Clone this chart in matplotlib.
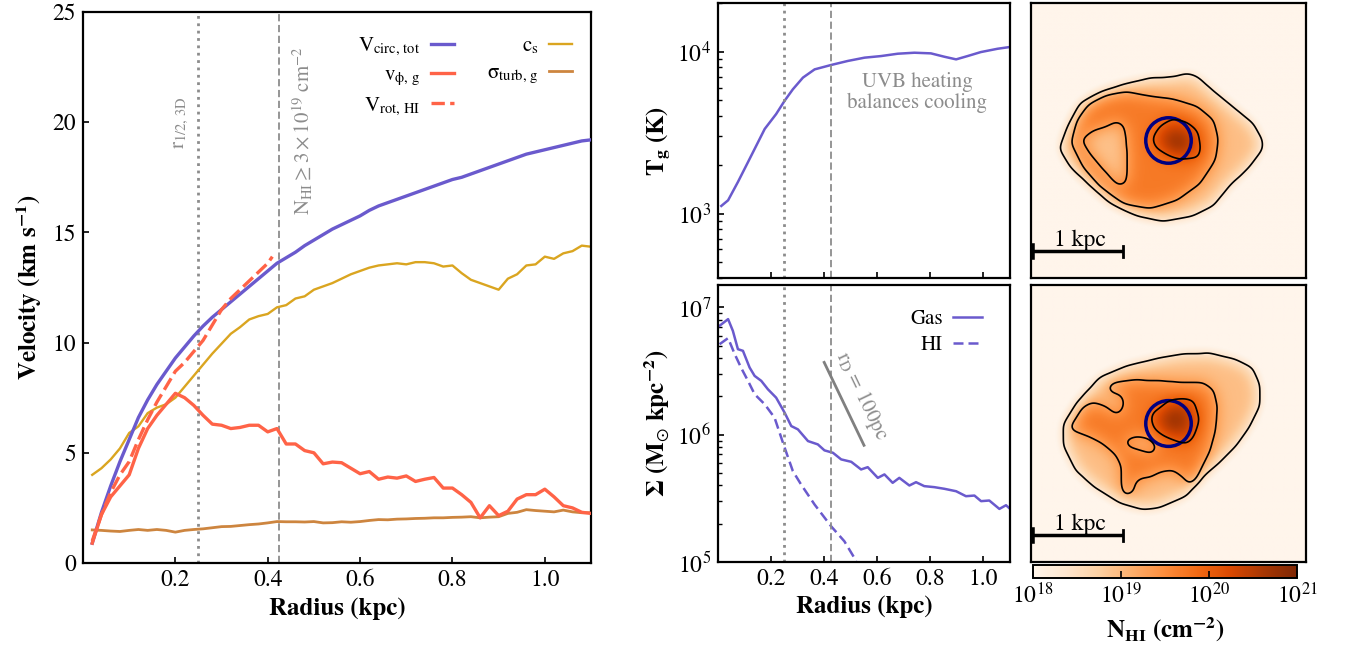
import numpy as np
import matplotlib
matplotlib.use("Agg")
import matplotlib.pyplot as plt
from matplotlib.colors import LogNorm
from matplotlib.path import Path
from matplotlib.patches import Circle

plt.rcParams['font.family'] = 'STIXGeneral'
plt.rcParams['mathtext.fontset'] = 'stix'
plt.rcParams['xtick.direction'] = 'in'
plt.rcParams['ytick.direction'] = 'in'
plt.rcParams['axes.linewidth'] = 1.6
plt.rcParams['xtick.major.width'] = 1.2
plt.rcParams['ytick.major.width'] = 1.2
plt.rcParams['xtick.minor.width'] = 1.0
plt.rcParams['ytick.minor.width'] = 1.0
plt.rcParams['xtick.major.size'] = 4.5
plt.rcParams['ytick.major.size'] = 4.5
plt.rcParams['xtick.minor.size'] = 2.8
plt.rcParams['ytick.minor.size'] = 2.8
plt.rcParams['xtick.labelsize'] = 17
plt.rcParams['ytick.labelsize'] = 17

#radial profiles (kpc, km/s)
r_prof = np.round(np.linspace(0.02, 1.10, 55), 2)

v_circ = [0.9, 2.3, 3.5, 4.6, 5.6, 6.6, 7.4, 8.1, 8.7, 9.3,
          9.8, 10.3, 10.75, 11.15, 11.5, 11.85, 12.2, 12.55, 12.9, 13.25,
          13.6, 13.85, 14.1, 14.4, 14.65, 14.9, 15.15, 15.35, 15.55, 15.75,
          16.0, 16.2, 16.35, 16.5, 16.65, 16.8, 16.95, 17.1, 17.25, 17.4,
          17.5, 17.65, 17.8, 17.95, 18.1, 18.25, 18.4, 18.55, 18.65, 18.75,
          18.85, 18.95, 19.05, 19.15, 19.2]

v_phi = [0.9, 2.2, 3.0, 3.5, 4.0, 5.2, 6.1, 6.7, 7.2, 7.7,
         7.5, 7.15, 6.7, 6.3, 6.25, 6.1, 6.15, 6.25, 6.25, 5.95,
         6.1, 5.4, 5.4, 5.1, 5.0, 4.5, 4.58, 4.55, 4.3, 4.05,
         4.15, 3.8, 3.9, 3.85, 3.95, 3.7, 3.8, 3.88, 3.4, 3.4,
         3.1, 2.75, 2.05, 2.6, 2.15, 2.35, 2.9, 3.1, 3.1, 3.35,
         3.0, 2.6, 2.5, 2.3, 2.25]

c_s = [4.0, 4.3, 4.7, 5.2, 5.9, 6.2, 6.8, 7.05, 7.2, 7.5,
       8.0, 8.5, 9.0, 9.5, 9.95, 10.4, 10.7, 11.05, 11.2, 11.3,
       11.6, 11.7, 12.0, 12.1, 12.4, 12.55, 12.7, 12.9, 13.1, 13.25,
       13.4, 13.5, 13.55, 13.6, 13.55, 13.65, 13.65, 13.6, 13.45, 13.5,
       13.15, 12.85, 12.7, 12.55, 12.4, 12.9, 13.1, 13.5, 13.55, 13.9,
       13.8, 14.05, 14.15, 14.4, 14.35]

sigma_turb = [1.5, 1.48, 1.45, 1.43, 1.48, 1.52, 1.48, 1.52, 1.48, 1.4,
              1.48, 1.52, 1.55, 1.6, 1.65, 1.66, 1.7, 1.74, 1.77, 1.82,
              1.88, 1.87, 1.87, 1.86, 1.88, 1.82, 1.83, 1.87, 1.85, 1.88,
              1.93, 1.97, 1.96, 1.99, 2.0, 2.02, 2.03, 2.05, 2.05, 2.07,
              2.08, 2.1, 2.05, 2.08, 2.1, 2.25, 2.3, 2.42, 2.38, 2.35,
              2.32, 2.4, 2.32, 2.28, 2.28]

r_hi = [0.02, 0.04, 0.06, 0.08, 0.10, 0.12, 0.14, 0.16, 0.18, 0.20, 0.22,
        0.24, 0.26, 0.28, 0.30, 0.32, 0.34, 0.36, 0.38, 0.40, 0.41]
v_rot_hi = [1.0, 2.2, 3.2, 4.0, 4.6, 5.6, 6.5, 7.3, 8.0, 8.7, 9.1,
            9.6, 10.1, 10.8, 11.5, 12.0, 12.4, 12.8, 13.2, 13.6, 13.9]

#gas temperature profile
r_temp = [0.0125, 0.038, 0.075, 0.113, 0.176, 0.219, 0.251, 0.282, 0.32, 0.364,
          0.426, 0.489, 0.552, 0.614, 0.677, 0.74, 0.802, 0.853, 0.897, 0.94,
          0.99, 1.053, 1.097]
t_gas = [1115, 1208, 1567, 2080, 3334, 4120, 4980, 5860, 6920, 7780,
         8280, 8770, 9190, 9400, 9720, 9860, 9770, 9310, 8970, 9400,
         9950, 10430, 10680]

#surface densities (Msun/kpc^2)
r_sd = [0.006, 0.038, 0.056, 0.075, 0.094, 0.119, 0.138, 0.163, 0.188, 0.219,
        0.251, 0.276, 0.301, 0.339, 0.376, 0.401, 0.433, 0.464, 0.502, 0.539,
        0.564, 0.602, 0.627, 0.658, 0.683, 0.721, 0.746, 0.777, 0.815, 0.853,
        0.897, 0.934, 0.966, 0.991, 1.022, 1.06, 1.085, 1.103]
log_sd_gas = [6.856, 6.908, 6.816, 6.672, 6.659, 6.528, 6.462, 6.423, 6.357, 6.291,
              6.173, 6.068, 6.042, 5.95, 5.924, 5.877, 5.858, 5.806, 5.787, 5.727,
              5.745, 5.661, 5.688, 5.622, 5.661, 5.601, 5.627, 5.596, 5.588, 5.575,
              5.556, 5.517, 5.522, 5.478, 5.483, 5.417, 5.446, 5.412]
r_sd_hi = [0.006, 0.038, 0.063, 0.088, 0.113, 0.138, 0.176, 0.213, 0.251, 0.282,
           0.313, 0.364, 0.426, 0.476, 0.514, 0.523]
log_sd_hi = [6.711, 6.759, 6.633, 6.522, 6.423, 6.318, 6.239, 6.134, 5.898, 5.714,
             5.609, 5.451, 5.281, 5.163, 5.031, 4.99]

r_half = 0.248      # 3D half-mass radius (kpc)
r_nhi = 0.424       # radius where N_HI >= 3e19 cm^-2
r_disk = 0.1        # exponential scale length of the guide line (kpc)

#HI map outlines in kpc: outer envelope, dense region, holes and core
map1_outer = [(-1.20, -0.09), (-1.11, 0.15), (-0.97, 0.41), (-0.75, 0.53), (-0.49, 0.62),
              (-0.20, 0.69), (0.05, 0.70), (0.20, 0.74), (0.31, 0.71), (0.49, 0.55),
              (0.71, 0.37), (0.93, 0.19), (1.03, 0.01), (1.03, -0.10), (0.89, -0.29),
              (0.67, -0.50), (0.49, -0.72), (0.27, -0.83), (-0.06, -0.89), (-0.35, -0.83),
              (-0.64, -0.69), (-0.89, -0.47), (-1.08, -0.29)]
map1_mid = [(-1.06, -0.03), (-1.00, 0.22), (-0.86, 0.41), (-0.68, 0.50), (-0.46, 0.53),
            (-0.20, 0.48), (0.05, 0.45), (0.31, 0.37), (0.49, 0.22), (0.54, 0.01),
            (0.51, -0.21), (0.34, -0.47), (0.09, -0.65), (-0.20, -0.74), (-0.49, -0.69),
            (-0.75, -0.50), (-0.93, -0.29)]
map1_holes = [[(-0.95, 0.01), (-0.82, 0.11), (-0.68, 0.15), (-0.57, 0.21), (-0.49, 0.17),
               (-0.46, 0.01), (-0.45, -0.25), (-0.46, -0.47), (-0.55, -0.49), (-0.71, -0.32),
               (-0.86, -0.14)]]
map1_core = [(-0.17, 0.02), (-0.09, 0.15), (0.05, 0.23), (0.20, 0.19), (0.31, 0.10),
             (0.34, -0.07), (0.33, -0.18), (0.23, -0.18), (0.13, -0.18), (-0.02, -0.12),
             (-0.13, -0.07)]
map1_peak = (0.09, -0.03)

map2_outer = [(-1.15, 0.00), (-1.00, 0.24), (-0.75, 0.51), (-0.46, 0.63), (-0.09, 0.72),
              (0.16, 0.76), (0.45, 0.77), (0.74, 0.70), (0.92, 0.61), (1.00, 0.43),
              (1.00, 0.18), (0.89, -0.04), (0.74, -0.25), (0.56, -0.43), (0.38, -0.58),
              (0.20, -0.79), (-0.10, -0.92), (-0.28, -0.94), (-0.53, -0.87), (-0.82, -0.69),
              (-1.02, -0.51), (-1.15, -0.25)]
map2_mid = [(-1.08, -0.05), (-0.93, 0.18), (-0.82, 0.23), (-0.68, 0.18), (-0.57, 0.09),
            (-0.51, 0.13), (-0.48, 0.22), (-0.51, 0.31), (-0.62, 0.34), (-0.67, 0.38),
            (-0.60, 0.44), (-0.38, 0.47), (-0.09, 0.46), (0.16, 0.44), (0.38, 0.44),
            (0.49, 0.36), (0.53, 0.18), (0.51, -0.07), (0.45, -0.29), (0.36, -0.47),
            (0.31, -0.61), (0.23, -0.66), (0.16, -0.58), (0.05, -0.50), (-0.09, -0.52),
            (-0.20, -0.58), (-0.31, -0.59), (-0.37, -0.65), (-0.38, -0.74), (-0.48, -0.78),
            (-0.51, -0.68), (-0.51, -0.47), (-0.57, -0.34), (-0.71, -0.22), (-0.86, -0.14),
            (-1.00, -0.09)]
map2_holes = [[(-0.48, -0.18), (-0.35, -0.14), (-0.22, -0.16), (-0.13, -0.25), (-0.17, -0.33),
               (-0.31, -0.29), (-0.44, -0.25)]]
map2_core = [(-0.17, 0.11), (-0.09, 0.15), (0.02, 0.24), (0.16, 0.26), (0.27, 0.25),
             (0.33, 0.04), (0.27, -0.14), (0.20, -0.22), (0.09, -0.18), (-0.06, -0.11),
             (-0.15, -0.05), (-0.18, 0.04)]
map2_peak = (0.07, 0.04)

#log N_HI assigned inside each outline
lg_bg, lg_env, lg_disk, lg_hole, lg_core = 17.8, 18.95, 19.7, 18.9, 20.3
contour_levels = [18.45, 19.3, 20.0]

W, H = 1346, 662


def px_box(x0, y0, x1, y1):
    return [x0 / W, 1 - y1 / H, (x1 - x0) / W, (y1 - y0) / H]


def blur(img, sig):
    k = np.arange(-4 * sig, 4 * sig + 1)
    k = np.exp(-0.5 * (k / sig) ** 2)
    k /= k.sum()
    img = np.apply_along_axis(lambda m: np.convolve(m, k, mode='same'), 0, img)
    img = np.apply_along_axis(lambda m: np.convolve(m, k, mode='same'), 1, img)
    return img


ngrid = 300
gx = np.linspace(-1.5, 1.5, ngrid)
GX, GY = np.meshgrid(gx, gx)
pts = np.column_stack([GX.ravel(), GY.ravel()])


def inside(poly):
    return Path(poly).contains_points(pts).reshape(GX.shape)


def draw_map(ax, outer, mid, holes, core, peak):
    f = np.zeros_like(GX)
    f[inside(outer)] = lg_env - lg_bg
    f[inside(mid)] = lg_disk - lg_bg
    for h in holes:
        f[inside(h)] = lg_hole - lg_bg
    f[inside(core)] = lg_core - lg_bg
    bump = 0.35 * np.exp(-((GX - peak[0]) ** 2 + (GY - peak[1]) ** 2) / (2 * 0.13 ** 2))
    # soft version for the colours, sharper one for the contour lines
    lg_soft = lg_bg + blur(f, 9) + bump
    lg_sharp = lg_bg + blur(f, 4) + bump
    im = ax.imshow(10 ** lg_soft, cmap='Oranges', norm=LogNorm(1e18, 1e21), origin='lower',
                   extent=(-1.5, 1.5, -1.5, 1.5), interpolation='bilinear', aspect='auto')
    ax.contour(GX, GY, lg_sharp, levels=contour_levels, colors='k', linewidths=1.2)
    ax.add_patch(Circle((0, 0), r_half, fill=False, color='navy', lw=2.5))
    # 1 kpc scale bar
    ax.plot([-1.5, -0.5], [-1.21, -1.21], color='k', lw=2.5, solid_capstyle='butt')
    ax.plot([-1.49, -1.49], [-1.27, -1.15], color='k', lw=4)
    ax.plot([-0.5, -0.5], [-1.27, -1.15], color='k', lw=2)
    ax.text(-0.97, -1.15, '1 kpc', ha='center', va='baseline', fontsize=17)
    ax.set_xlim(-1.5, 1.5)
    ax.set_ylim(-1.5, 1.5)
    ax.set_xticks([])
    ax.set_yticks([])
    return im


fig = plt.figure(figsize=(13.46, 6.62), dpi=100)

grey = '#8c8c8c'
radius_ticks = [0.2, 0.4, 0.6, 0.8, 1.0]

# velocities
ax = fig.add_axes(px_box(83, 12, 591, 563))
ax.plot(r_prof, v_circ, color='#6a5acd', lw=2.4, label=r'V$_{\rm circ,\,tot}$', zorder=3)
ax.plot(r_prof, v_phi, color='#ff6347', lw=2.4, label=r'v$_{\mathrm{\phi},\,\rm g}$', zorder=3)
ax.plot(r_hi, v_rot_hi, color='#ff6347', lw=2.4, ls=(0, (4, 1.6)), label=r'V$_{\rm rot,\,HI}$', zorder=3)
ax.plot(r_prof, c_s, color='#daa520', lw=1.7, label=r'c$_{\rm s}$', zorder=2)
ax.plot(r_prof, sigma_turb, color='#cd853f', lw=2.0, label=r'$\mathrm{\sigma}_{\rm turb,\,g}$', zorder=2)
ax.axvline(r_half, color=grey, ls=':', lw=2.0, zorder=1)
ax.axvline(r_nhi, color=grey, ls=(0, (4, 2)), lw=1.3, zorder=1)
ax.text(0.212, 18.8, r'r$_{1/2,\,\rm 3D}$', rotation=90, ha='center', va='bottom', fontsize=15, color=grey)
ax.text(0.477, 15.8, r'N$_{\rm HI}\geq 3\times10^{19}$ cm$^{-2}$', rotation=90, ha='center', va='bottom',
        fontsize=15, color=grey)
ax.set_xlim(0, 1.1)
ax.set_ylim(0, 25)
ax.set_xticks(radius_ticks)
ax.set_xticklabels(['0.2', '0.4', '0.6', '0.8', '1.0'])
ax.set_yticks([0, 5, 10, 15, 20, 25])
ax.tick_params(pad=5)
ax.set_xlabel('Radius (kpc)', fontsize=18, fontweight='bold', labelpad=4)
ax.set_ylabel(r'Velocity (km s$^{\mathbf{-1}}$)', fontsize=18, fontweight='bold', labelpad=6)
ax.legend(ncol=2, markerfirst=False, frameon=False, fontsize=15, handlelength=1.1,
          columnspacing=1.6, labelspacing=0.35, handletextpad=0.5,
          loc='upper right', bbox_to_anchor=(1.0, 0.99))

# gas temperature
ax = fig.add_axes(px_box(718, 3, 1010, 278))
ax.plot(r_temp, t_gas, color='#6a5acd', lw=1.8)
ax.axvline(r_half, color=grey, ls=':', lw=2.0)
ax.axvline(r_nhi, color=grey, ls=(0, (4, 2)), lw=1.3)
ax.text(0.75, 5600, 'UVB heating\nbalances cooling', ha='center', va='center', fontsize=15,
        color=grey, linespacing=1.0)
ax.set_yscale('log')
ax.set_xlim(0, 1.1)
ax.set_ylim(400, 2e4)
ax.set_xticks(radius_ticks)
ax.set_xticklabels([])
ax.tick_params(pad=5)
ax.set_ylabel(r'T$_{\mathbf{g}}$ (K)', fontsize=18, fontweight='bold', labelpad=4)

# surface density
ax = fig.add_axes(px_box(718, 285, 1010, 562))
ax.plot(r_sd, 10 ** np.array(log_sd_gas), color='#6a5acd', lw=1.8, label='Gas')
ax.plot(r_sd_hi, 10 ** np.array(log_sd_hi), color='#6a5acd', lw=1.8, ls=(0, (4, 2)), label='HI')
ax.axvline(r_half, color=grey, ls=':', lw=2.0)
ax.axvline(r_nhi, color=grey, ls=(0, (4, 2)), lw=1.3)
r_line = np.array([0.40, 0.55])
ax.plot(r_line, 3.7e6 * np.exp(-(r_line - 0.40) / r_disk), color='#808080', lw=2.0)
ax.set_yscale('log')
ax.set_xlim(0, 1.1)
ax.set_ylim(1e5, 1.5e7)
p0 = ax.transData.transform((r_line[0], 3.7e6))
p1 = ax.transData.transform((r_line[1], 3.7e6 * np.exp(-(r_line[1] - 0.40) / r_disk)))
ang = np.degrees(np.arctan2(p1[1] - p0[1], p1[0] - p0[0]))
ax.text(0.54, 2.0e6, r'r$_{\rm D}$ = 100pc', rotation=ang, rotation_mode='anchor',
        ha='center', va='center', fontsize=15, color=grey)
ax.set_xticks(radius_ticks)
ax.set_xticklabels(['0.2', '0.4', '0.6', '0.8', '1.0'])
ax.tick_params(pad=5)
ax.set_xlabel('Radius (kpc)', fontsize=18, fontweight='bold', labelpad=4)
ax.set_ylabel(r'$\mathbf{\Sigma}$ (M$_{\odot}$ kpc$^{\mathbf{-2}}$)', fontsize=18, fontweight='bold', labelpad=4)
ax.legend(markerfirst=False, frameon=False, fontsize=15, handlelength=1.4, labelspacing=0.3,
          handletextpad=0.5, loc='upper right', bbox_to_anchor=(0.97, 0.98))

# HI column density maps
ax = fig.add_axes(px_box(1031, 3, 1306, 278))
draw_map(ax, map1_outer, map1_mid, map1_holes, map1_core, map1_peak)
ax = fig.add_axes(px_box(1031, 285, 1306, 562))
im = draw_map(ax, map2_outer, map2_mid, map2_holes, map2_core, map2_peak)

cax = fig.add_axes(px_box(1033, 565, 1297, 578))
cb = fig.colorbar(im, cax=cax, orientation='horizontal')
cb.ax.minorticks_off()
cb.set_ticks([1e18, 1e19, 1e20, 1e21])
cb.ax.tick_params(direction='in', length=5, pad=3, labelsize=17)
cb.outline.set_linewidth(1.4)
cb.set_label(r'N$_{\mathbf{HI}}$ (cm$^{\mathbf{-2}}$)', fontsize=18, fontweight='bold', labelpad=6)

fig.savefig('out.png', dpi=100)
